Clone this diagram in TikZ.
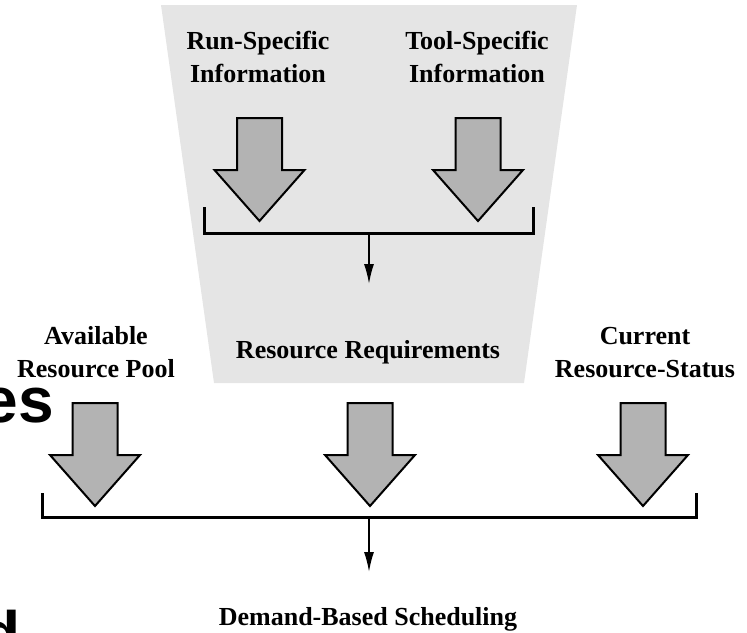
\documentclass[tikz,border=0pt]{standalone}
\usepackage{fontspec}
\setmainfont{Liberation Serif}
\newfontfamily\bigsans{Liberation Sans}
\usetikzlibrary{arrows.meta}
\definecolor{panelgray}{HTML}{E5E5E5}
\definecolor{arrowgray}{HTML}{B3B3B3}
\tikzset{
  lbl/.style={font=\fontsize{26}{33}\selectfont\bfseries, align=center, inner sep=0pt, anchor=base},
  frag/.style={font=\fontsize{64}{70}\selectfont\bigsans\bfseries, inner sep=0pt, anchor=base east},
  arrowbox/.style={fill=arrowgray, draw=black, line width=2pt, line join=miter},
  bracket/.style={draw=black, line width=3pt},
  stem/.style={draw=black, line width=1.6pt, -{Latex[length=20pt,width=10pt]}},
  bigarrow/.pic={
    \path[arrowbox] (-22.5,0) -- (22.5,0) -- (22.5,52) -- (45,52) -- (0,103)
      -- (-45,52) -- (-22.5,52) -- cycle;
  }
}
\begin{document}
\begin{tikzpicture}[x=1pt,y=-1pt]
\useasboundingbox (0,0) rectangle (747,632);
% grey panel
\fill[panelgray] (161,5) -- (577,5) -- (524,383) -- (214,383) -- cycle;
% top labels (base anchor = baseline of the last line)
\node[lbl] (run) at (258,82) {Run-Specific\\Information};
\node[lbl] (tool) at (477,82) {Tool-Specific\\Information};
% top arrows
\pic at (259.5,118) {bigarrow};
\pic at (478,118) {bigarrow};
% top bracket
\coordinate (tl) at (204,207);
\coordinate (tr) at (533,207);
\coordinate (tm) at (369,233);
\coordinate (tend) at (369,284);
\draw[bracket] (tl) |- (tm) -| (tr);
\draw[stem] (tm) -- (tend);
% middle labels
\node[lbl] (req) at (368,358) {Resource Requirements};
\node[lbl] (pool) at (96,377) {Available\\Resource Pool};
\node[lbl] (status) at (645,377) {Current\\Resource-Status};
% lower arrows
\pic at (95,403) {bigarrow};
\pic at (370,403) {bigarrow};
\pic at (643,403) {bigarrow};
% lower bracket
\coordinate (bl) at (42,493);
\coordinate (br) at (696,493);
\coordinate (bm) at (369,517);
\coordinate (bend) at (369,572);
\draw[bracket] (bl) |- (bm) -| (br);
\draw[stem] (bm) -- (bend);
% bottom label
\node[lbl] (dbs) at (368,625) {Demand-Based Scheduling};
% clipped fragments of large background text
\node[frag] (fes) at (54,422) {es};
\node[frag] (fd) at (21,656) {d};
\end{tikzpicture}
\end{document}
